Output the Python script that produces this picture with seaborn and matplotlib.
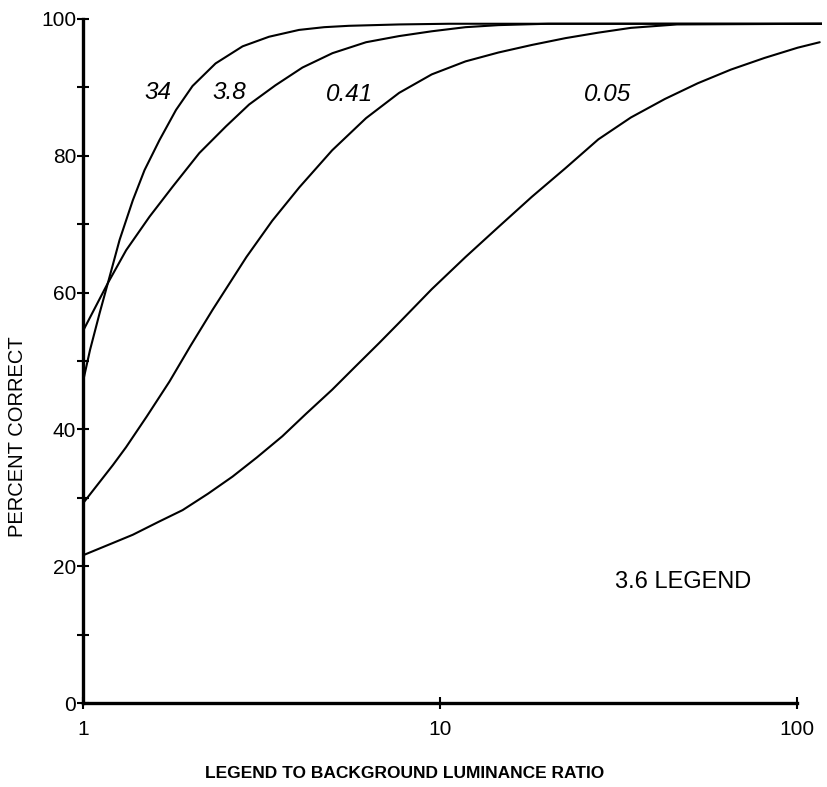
import matplotlib
matplotlib.use("Agg")
import matplotlib.pyplot as plt
import seaborn as sns
import pandas as pd

# Percent correct vs. legend-to-background luminance ratio, for four
# background luminance levels (3.6 legend size).
x_34 = [1.0, 1.046, 1.113, 1.174, 1.266, 1.379, 1.487, 1.638, 1.822, 2.027, 2.352, 2.80,
        3.32, 4.03, 4.74, 5.56, 7.69, 10.6, 20, 50, 118]
y_34 = [47.0, 51.6, 57.0, 61.4, 67.7, 73.5, 77.9, 82.3, 86.7, 90.2, 93.5, 96.0,
        97.4, 98.4, 98.8, 99.0, 99.2, 99.3, 99.3, 99.3, 99.3]

x_38 = [1.0, 1.174, 1.321, 1.536, 1.784, 2.118, 2.515, 2.921, 3.46, 4.12, 5.0, 6.21,
        7.69, 9.49, 11.8, 14.6, 20.1, 118]
y_38 = [54.4, 61.4, 66.2, 71.1, 75.5, 80.4, 84.3, 87.5, 90.3, 92.9, 95.0, 96.6,
        97.5, 98.2, 98.8, 99.1, 99.3, 99.3]

x_041 = [1.0, 1.213, 1.32, 1.509, 1.747, 2.0, 2.308, 2.87, 3.39, 4.04, 4.99, 6.21, 7.69, 9.49,
         11.8, 14.6, 18.1, 22.5, 27.8, 34.3, 46.2, 118]
y_041 = [29.2, 34.8, 37.4, 41.9, 47.0, 52.2, 57.5, 65.2, 70.5, 75.4, 80.8, 85.5, 89.2, 91.9,
         93.8, 95.1, 96.2, 97.2, 98.0, 98.7, 99.2, 99.3]

x_005 = [1.0, 1.213, 1.379, 1.63, 1.901, 2.24, 2.624, 3.07, 3.619, 4.22, 4.99, 5.8, 6.75,
         7.69, 9.49, 11.8, 14.6, 18.1, 22.5, 27.8, 34.3, 42.7, 52.8, 65.4, 81.2, 100.6, 116]
y_005 = [21.6, 23.4, 24.6, 26.5, 28.2, 30.6, 33.1, 35.9, 39.0, 42.3, 45.8, 49.2, 52.6,
         55.6, 60.5, 65.2, 69.6, 74.0, 78.2, 82.4, 85.6, 88.3, 90.6, 92.6, 94.3, 95.8, 96.6]

series_names = ["34", "3.8", "0.41", "0.05"]
label_pos = {"34": (1.62, 89.3), "3.8": (2.57, 89.3), "0.41": (5.6, 89.0), "0.05": (29.5, 89.0)}

y_ticks = [0, 20, 40, 60, 80, 100]
x_ticks = [1, 10, 100]
x_ticklabels = ["1", "10", "100"]

frames = []
for name, xs, ys in zip(series_names, [x_34, x_38, x_041, x_005], [y_34, y_38, y_041, y_005]):
    frames.append(pd.DataFrame({"ratio": xs, "pct": ys, "lum": name}))
df = pd.concat(frames, ignore_index=True)

sns.set_style("ticks")
plt.rcParams["font.family"] = ["Liberation Sans", "DejaVu Sans"]
plt.rcParams["text.color"] = "black"
plt.rcParams["axes.labelcolor"] = "black"

fig = plt.figure(figsize=(8.27, 7.87), dpi=100)
ax = fig.add_axes([0.1004, 0.1067, 0.894, 0.8692])

sns.lineplot(data=df, x="ratio", y="pct", hue="lum", units="lum", estimator=None,
             palette={n: "black" for n in series_names}, linewidth=1.5,
             legend=False, sort=False, ax=ax)

ax.set_xscale("log")
ax.set_xlim(1, 118)
ax.set_ylim(0, 100)

ax.set_yticks(range(0, 101, 10))
ax.set_yticklabels([str(v) if v in y_ticks else "" for v in range(0, 101, 10)])
ax.set_xticks(x_ticks)
ax.set_xticklabels(x_ticklabels)
ax.xaxis.set_minor_locator(matplotlib.ticker.NullLocator())

ax.tick_params(axis="both", direction="inout", length=9, width=1.5, labelsize=15,
               colors="black", labelcolor="black")
ax.tick_params(axis="y", pad=0.5)
ax.tick_params(axis="x", pad=8)

sns.despine(ax=ax)
for side in ["left", "bottom"]:
    ax.spines[side].set_linewidth(2.4)
    ax.spines[side].set_color("black")
ax.spines["bottom"].set_bounds(1, 100)
ax.spines["left"].set_bounds(0, 100)

for name in series_names:
    lx, ly = label_pos[name]
    ax.text(lx, ly, name, fontsize=17.5, style="italic", ha="center", va="center", color="black")

ax.text(48.0, 17.7, "3.6 LEGEND", fontsize=17, ha="center", va="center", color="black")

ax.set_xlabel("")
ax.set_ylabel("")
fig.text(405 / 827, 1 - 773 / 787, "LEGEND TO BACKGROUND LUMINANCE RATIO",
         fontsize=12.5, fontweight="bold", ha="center", va="center", color="black")
fig.text(18 / 827, 1 - 437 / 787, "PERCENT CORRECT", rotation=90,
         fontsize=14.5, ha="center", va="center", color="black")

fig.savefig("out.png", dpi=100, facecolor="white")
